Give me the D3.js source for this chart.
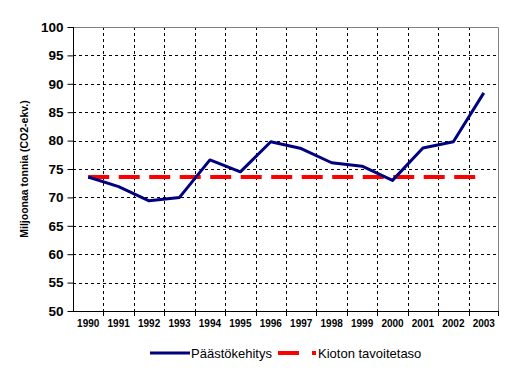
<!DOCTYPE html>
<html>
<head>
<meta charset="utf-8">
<script src="https://cdn.jsdelivr.net/npm/d3@7"></script>
<style>
  body { margin: 0; background: #fff; }
  svg { display: block; font-family: Arial, "Liberation Sans", sans-serif; }
</style>
</head>
<body>
<svg id="chart"></svg>
<script>
const years = ['1990', '1991', '1992', '1993', '1994', '1995', '1996',
  '1997', '1998', '1999', '2000', '2001', '2002', '2003'];
const emissions = [73.6, 71.9, 69.4, 70.0, 76.6, 74.5, 79.8,
  78.6, 76.1, 75.5, 73.0, 78.7, 79.8, 88.4];
const kyotoTarget = 73.6;
const yTicks = [50, 55, 60, 65, 70, 75, 80, 85, 90, 95, 100];

const margin = { top: 27, right: 15, bottom: 59, left: 73 };
const width = 514 - margin.left - margin.right;
const height = 370 - margin.top - margin.bottom;

const svg = d3.select('#chart').
  attr('width', 514).
  attr('height', 370).
  append('g').
  attr('transform', `translate(${margin.left},${margin.top})`);

const x = d3.scaleBand().domain(years).range([0, width]);
const y = d3.scaleLinear().domain([50, 100]).range([height, 0]);
const cx = d => x(d) + x.bandwidth() / 2;

// grid
svg.append('g').selectAll('line').
  data(yTicks.slice(1, -1)).
  enter().
  append('line').
  attr('x1', 0).attr('x2', width).
  attr('y1', d => Math.round(y(d)) + 0.5).attr('y2', d => Math.round(y(d)) + 0.5).
  attr('stroke', '#000').
  attr('stroke-dasharray', '3,3');

svg.append('g').selectAll('line').
  data(years.slice(1)).
  enter().
  append('line').
  attr('x1', d => Math.round(x(d)) + 0.5).attr('x2', d => Math.round(x(d)) + 0.5).
  attr('y1', 0).attr('y2', height).
  attr('stroke', '#000').
  attr('stroke-dasharray', '3,3');

// top and right border
svg.append('path').
  attr('d', `M0.5,0.5H${width - 0.5}V${height}`).
  attr('fill', 'none').
  attr('stroke', '#808080');

// axes
const yAxis = svg.append('g').
  attr('transform', 'translate(0.5,0)').
  call(d3.axisLeft(y).tickValues(yTicks).tickSize(6).tickPadding(4));
yAxis.select('.domain').attr('d', `M0,${height}V0`);
yAxis.selectAll('text').
  style('font-size', '13.5px').
  style('font-weight', 'bold').
  attr('fill', '#000');

const xAxis = svg.append('g').
  attr('transform', `translate(0,${height + 0.5})`).
  call(d3.axisBottom(x).tickSize(0).tickPadding(8));
xAxis.select('.domain').attr('d', `M0,0H${width}`);
xAxis.selectAll('text').
  style('font-size', '10px').
  style('font-weight', 'bold').
  attr('fill', '#000');

svg.append('g').selectAll('line').
  data(years.slice(1).concat(['end'])).
  enter().
  append('line').
  attr('x1', d => d === 'end' ? width - 0.5 : Math.round(x(d)) + 0.5).
  attr('x2', d => d === 'end' ? width - 0.5 : Math.round(x(d)) + 0.5).
  attr('y1', height).attr('y2', height + 5).
  attr('stroke', '#000');

// kyoto target
svg.append('line').
  attr('x1', cx(years[0])).attr('x2', cx(years[years.length - 1])).
  attr('y1', y(kyotoTarget)).attr('y2', y(kyotoTarget)).
  attr('stroke', '#ff0000').
  attr('stroke-width', 4).
  attr('stroke-dasharray', '21,9.5');

// emissions
const line = d3.line().
  x((d, i) => cx(years[i])).
  y(d => y(d));

svg.append('path').
  datum(emissions).
  attr('d', line).
  attr('fill', 'none').
  attr('stroke', '#000080').
  attr('stroke-width', 3).
  attr('stroke-linejoin', 'round');

// y label
svg.append('text').
  attr('transform', `translate(${-margin.left + 28},${height / 2}) rotate(-90)`).
  style('text-anchor', 'middle').
  style('font-size', '10.5px').
  style('font-weight', 'bold').
  text('Miljoonaa tonnia (CO2-ekv.)');

// legend
const legend = d3.select('#chart').append('g');
legend.append('line').
  attr('x1', 150).attr('x2', 190).attr('y1', 353).attr('y2', 353).
  attr('stroke', '#000080').attr('stroke-width', 3);
legend.append('text').
  attr('x', 191).attr('y', 358).
  style('font-size', '13px').
  text('Päästökehitys');
legend.append('line').
  attr('x1', 278).attr('x2', 316).attr('y1', 353).attr('y2', 353).
  attr('stroke', '#ff0000').attr('stroke-width', 4).
  attr('stroke-dasharray', '21,13');
legend.append('text').
  attr('x', 318).attr('y', 358).
  style('font-size', '13px').
  text('Kioton tavoitetaso');
</script>
</body>
</html>
